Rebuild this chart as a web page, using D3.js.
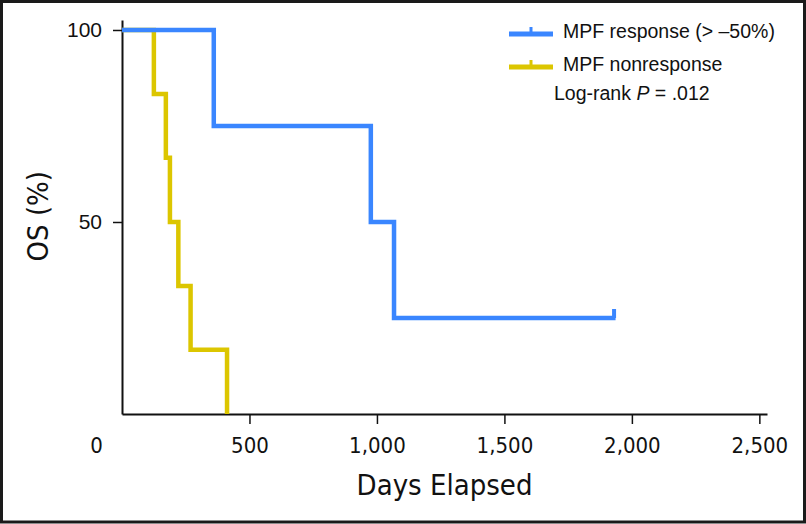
<!DOCTYPE html>
<html>
<head>
<meta charset="utf-8">
<script src="https://cdn.jsdelivr.net/npm/d3@7"></script>
<style>
  body { margin: 0; background: #fff; }
  .cond { font-family: "DejaVu Sans Condensed", "DejaVu Sans", sans-serif; font-stretch: condensed; }
</style>
</head>
<body>
<div id="chart"></div>
<script>
// Kaplan-Meier steps
const responseDays = [0, 360, 976, 1067, 1936];
const responseOS = [100, 75, 50, 25, 25];
const responseCensored = [1936];

const nonresponseDays = [0, 125, 172, 188, 221, 269, 412];
const nonresponseOS = [100, 83.3, 66.7, 50, 33.3, 16.7, 0];

const xTicks = [0, 500, 1000, 1500, 2000, 2500];
const yTicks = [50, 100];

const seriesNames = ["MPF response (> \u201350%)", "MPF nonresponse"];
const seriesColors = ["#3a86ff", "#dcc600"];

const width = 806;
const height = 524;
const marginTop = 20;
const marginRight = 39;
const marginBottom = 110;
const marginLeft = 122;

const svg = d3.select("#chart")
    .append("svg")
    .attr("width", width)
    .attr("height", height)
    .attr("viewBox", [0, 0, width, height]);

// outer frame
svg.append("rect")
    .attr("x", 1.5).attr("y", 1.5)
    .attr("width", width - 3).attr("height", height - 3.5)
    .attr("fill", "none")
    .attr("stroke", "#1a1a1a")
    .attr("stroke-width", 3);

const x = d3.scaleLinear([0, 2530], [marginLeft, width - marginRight]);
const y = d3.scaleLinear([0, 102.6], [height - marginBottom, marginTop]);

const line = d3.line()
    .x(d => x(d[0]))
    .y(d => y(d[1]))
    .curve(d3.curveStepAfter);

// x axis
svg.append("g")
    .attr("transform", `translate(0,${y(0)})`)
    .call(d3.axisBottom(x).tickValues(xTicks).tickSize(10).tickSizeOuter(0).tickPadding(13)
        .tickFormat(d3.format(",")))
    .call(g => g.select(".domain").attr("stroke", "#111").attr("stroke-width", 2))
    .call(g => g.selectAll(".tick line").attr("stroke", "#111").attr("stroke-width", 1.5))
    .call(g => g.selectAll(".tick text")
        .attr("class", "cond")
        .attr("font-size", 22)
        .attr("fill", "#111"))
    .call(g => g.selectAll(".tick").filter(d => d === 0)
        .call(t => t.select("line").remove())
        .call(t => t.select("text").attr("x", -26)));

// y axis
svg.append("g")
    .attr("transform", `translate(${x(0)},0)`)
    .call(d3.axisLeft(y).tickValues(yTicks).tickSize(9).tickSizeOuter(0).tickPadding(11))
    .call(g => g.select(".domain").attr("stroke", "#111").attr("stroke-width", 2))
    .call(g => g.selectAll(".tick line").attr("stroke", "#111").attr("stroke-width", 1.5))
    .call(g => g.selectAll(".tick text")
        .attr("font-family", "'Liberation Sans', Arial, sans-serif")
        .attr("font-size", 21)
        .attr("fill", "#111"));

// axis titles
svg.append("text")
    .attr("class", "cond")
    .attr("x", (x.range()[0] + x.range()[1]) / 2)
    .attr("y", 495)
    .attr("text-anchor", "middle")
    .attr("font-size", 29)
    .attr("fill", "#111")
    .text("Days Elapsed");

svg.append("text")
    .attr("class", "cond")
    .attr("transform", `translate(48,${y(51.5)}) rotate(-90)`)
    .attr("text-anchor", "middle")
    .attr("font-size", 29)
    .attr("fill", "#111")
    .text("OS (%)");

// curves (nonresponse first so response sits on top)
svg.append("path")
    .attr("d", line(d3.zip(nonresponseDays, nonresponseOS)))
    .attr("fill", "none")
    .attr("stroke", seriesColors[1])
    .attr("stroke-width", 4.5);

svg.append("path")
    .attr("d", line(d3.zip(responseDays, responseOS)))
    .attr("fill", "none")
    .attr("stroke", seriesColors[0])
    .attr("stroke-width", 4.5);

// censor marks
svg.selectAll(".censor")
    .data(responseCensored)
    .join("line")
    .attr("class", "censor")
    .attr("x1", d => x(d) - 1.5).attr("x2", d => x(d) - 1.5)
    .attr("y1", d => y(responseOS[responseDays.indexOf(d)]))
    .attr("y2", d => y(responseOS[responseDays.indexOf(d)]) - 9)
    .attr("stroke", seriesColors[0])
    .attr("stroke-width", 4);

// legend
const legend = svg.append("g").attr("font-family", "'Liberation Sans', Arial, sans-serif");
const legendX = 509;
const legendY = [34, 67];

seriesNames.forEach((name, i) => {
    const row = legend.append("g").attr("transform", `translate(${legendX},${legendY[i]})`);
    row.append("line")
        .attr("x1", 0).attr("x2", 44)
        .attr("stroke", seriesColors[i])
        .attr("stroke-width", 5);
    row.append("line")
        .attr("x1", 22).attr("x2", 22)
        .attr("y1", 0).attr("y2", -7)
        .attr("stroke", seriesColors[i])
        .attr("stroke-width", 3);
    row.append("text")
        .attr("x", 54)
        .attr("y", 4)
        .attr("font-size", 19.5)
        .attr("fill", "#111")
        .text(name);
});

const lr = legend.append("text")
    .attr("x", 554)
    .attr("y", 100)
    .attr("font-size", 19.5)
    .attr("fill", "#111");
lr.append("tspan").text("Log-rank ");
lr.append("tspan").attr("font-style", "italic").text("P");
lr.append("tspan").text(" = .012");
</script>
</body>
</html>
